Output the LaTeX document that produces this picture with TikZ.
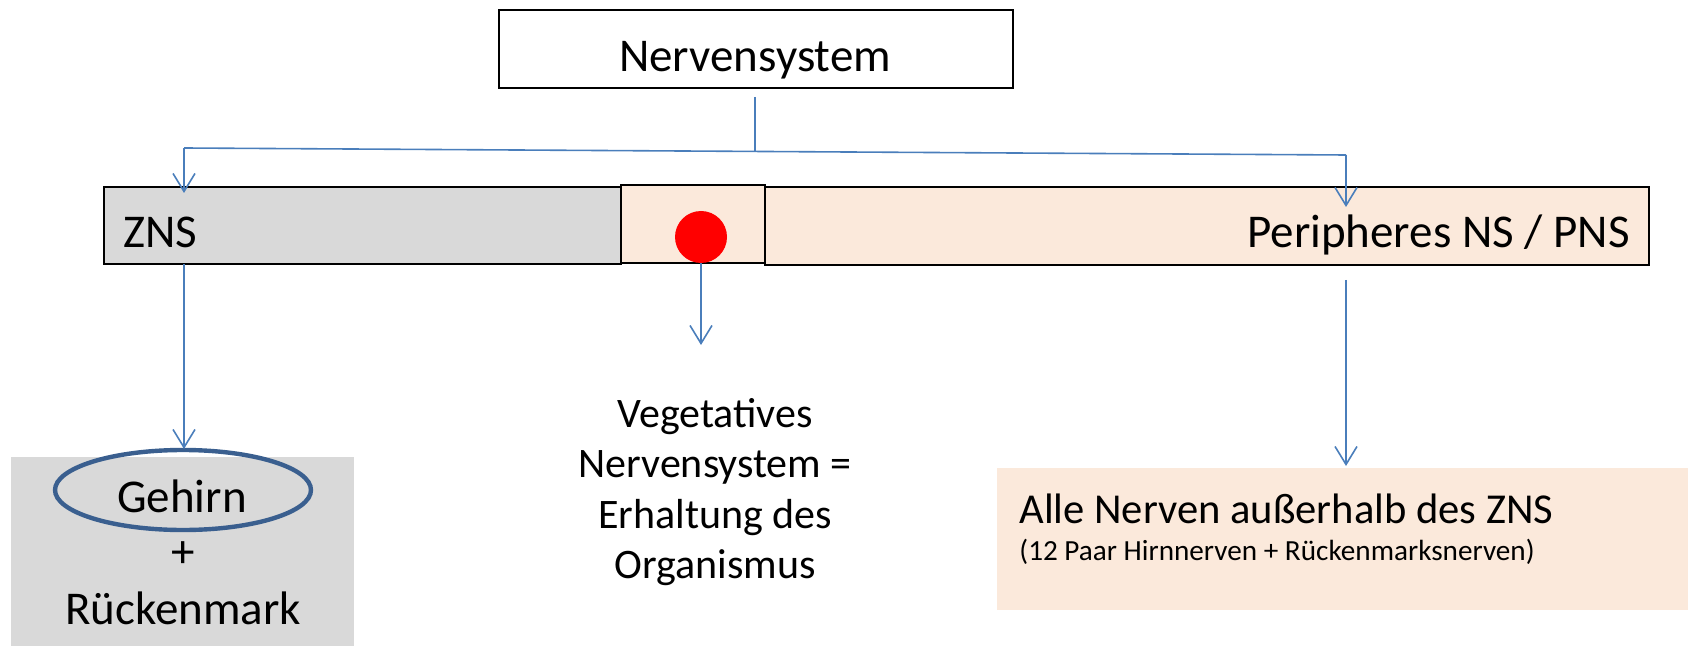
\documentclass[tikz,border=0pt]{standalone}
\usepackage{fontspec}
\setmainfont{Carlito}
\usetikzlibrary{arrows.meta,shapes.geometric}
\definecolor{peach}{HTML}{FBE9DB}
\definecolor{lgray}{HTML}{D9D9D9}
\definecolor{lineblue}{HTML}{4A7EBB}
\definecolor{ellblue}{HTML}{3A5F8F}
\begin{document}
\begin{tikzpicture}[x=0.5pt,y=-0.5pt,
  box/.style={draw=black,line width=1pt,rectangle,inner sep=0pt},
  plain/.style={rectangle,inner sep=0pt,draw=none},
  lbl/.style={inner sep=0pt,font=\fontsize{23.5}{28}\selectfont},
  conn/.style={draw=lineblue,line width=0.8pt},
  arr/.style={conn,-{Straight Barb[length=9pt,width=11pt]}}
]
\useasboundingbox (0,0) rectangle (1700,646);

% top box
\node[box,minimum width=257pt,minimum height=39pt] (ns) at (756,49) {};
\node[lbl,anchor=base] (nsl) at (755,72) {Nervensystem};

% bar
\node[box,fill=lgray,minimum width=258.5pt,minimum height=38.5pt] (zns) at (362.5,225.5) {};
\node[box,fill=peach,minimum width=72pt,minimum height=39pt] (mid) at (693,224) {};
\node[box,fill=peach,minimum width=442pt,minimum height=39pt] (pns) at (1207,226) {};
\node[circle,fill=red,draw=none,minimum size=26pt,inner sep=0pt] (dot) at (701,237) {};
\node[lbl,anchor=base west] (znsl) at (123,248) {ZNS};
\node[lbl,anchor=base east] (pnsl) at (1630,248) {Peripheres NS / PNS};

% lower boxes
\node[plain,fill=lgray,minimum width=171.5pt,minimum height=94.5pt] (gbox) at (182.5,551.5) {};
\node[plain,fill=peach,minimum width=345.5pt,minimum height=71pt] (abox) at (1342.5,539) {};
\node[ellipse,draw=ellblue,line width=2.2pt,minimum width=128pt,minimum height=40pt,inner sep=0pt] (geh) at (183,490) {};
\node[lbl,anchor=base] (gehl) at (182,512) {Gehirn};
\node[lbl,anchor=base] (plus) at (183,567) {+};
\node[lbl,anchor=base] (rm) at (183,624) {Rückenmark};

\node[inner sep=0pt,align=center,font=\fontsize{21}{25.3}\selectfont] (veg) at (715,492)
  {Vegetatives\\Nervensystem =\\Erhaltung des\\Organismus};

\node[inner sep=0pt,anchor=base west,font=\fontsize{21.3}{25}\selectfont] (alle) at (1019,523) {Alle Nerven außerhalb des ZNS};
\node[inner sep=0pt,anchor=base west,font=\fontsize{14.6}{17}\selectfont] (paar) at (1019,560) {(12 Paar Hirnnerven + Rückenmarksnerven)};

% connectors
\coordinate (hl) at (184,148);
\coordinate (hr) at (1346,155);
\coordinate (jn) at (755,151.4);
\coordinate (nsb) at (755,97);
\coordinate (tz) at (184,193);
\coordinate (tp) at (1346,207);
\draw[conn] (nsb) -- (jn);
\draw[conn] (hl) -- (hr);
\draw[arr] (hl) -- (tz);
\draw[arr] (hr) -- (tp);

\coordinate (zs) at (184,264);
\coordinate (ge) at (184,449);
\draw[arr] (zs) -- (ge);
\coordinate (ms) at (701,263);
\coordinate (me) at (701,345);
\draw[arr] (ms) -- (me);
\coordinate (ps) at (1346,280);
\coordinate (pe) at (1346,466);
\draw[arr] (ps) -- (pe);
\end{tikzpicture}
\end{document}
